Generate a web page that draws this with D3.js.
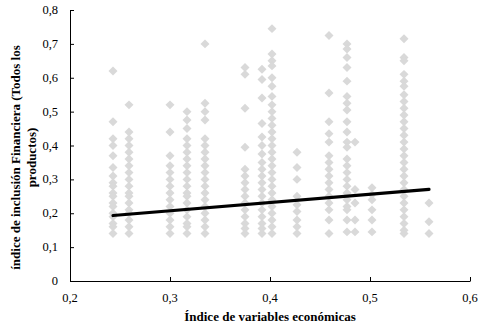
<!DOCTYPE html>
<html>
<head>
<meta charset="utf-8">
<script src="https://cdn.jsdelivr.net/npm/d3@7"></script>
<style>
  body { margin: 0; background: #fff; }
  text { font-family: "Liberation Serif", "Times New Roman", serif; }
</style>
</head>
<body>
<svg id="chart" width="478" height="325"></svg>
<script>
// x position of each column of points (índice de variables económicas)
const columnX = [0.243, 0.259, 0.300, 0.317, 0.335, 0.375, 0.392, 0.402,
                 0.427, 0.459, 0.477, 0.485, 0.502, 0.534, 0.559];

// y values for each column, same order as columnX
const columnY = [
  [0.62, 0.47, 0.42, 0.40, 0.37, 0.335, 0.31, 0.29, 0.28, 0.26, 0.25, 0.23, 0.22, 0.20, 0.19, 0.17, 0.16, 0.14],
  [0.52, 0.44, 0.42, 0.40, 0.38, 0.36, 0.34, 0.32, 0.30, 0.28, 0.26, 0.25, 0.23, 0.21, 0.20, 0.18, 0.16, 0.14],
  [0.52, 0.44, 0.37, 0.34, 0.32, 0.30, 0.28, 0.26, 0.24, 0.22, 0.20, 0.18, 0.16, 0.14],
  [0.50, 0.475, 0.45, 0.42, 0.40, 0.38, 0.36, 0.34, 0.32, 0.30, 0.28, 0.26, 0.25, 0.23, 0.21, 0.19, 0.17, 0.16, 0.14],
  [0.70, 0.525, 0.50, 0.475, 0.42, 0.40, 0.38, 0.36, 0.34, 0.32, 0.30, 0.28, 0.26, 0.24, 0.22, 0.20, 0.18, 0.16, 0.14],
  [0.63, 0.61, 0.51, 0.395, 0.33, 0.31, 0.29, 0.27, 0.25, 0.23, 0.21, 0.19, 0.17, 0.155, 0.14],
  [0.625, 0.595, 0.54, 0.465, 0.425, 0.40, 0.375, 0.35, 0.33, 0.31, 0.29, 0.27, 0.25, 0.23, 0.21, 0.19, 0.17, 0.155, 0.14],
  [0.745, 0.67, 0.65, 0.635, 0.60, 0.575, 0.545, 0.52, 0.50, 0.48, 0.46, 0.44, 0.42, 0.40, 0.38, 0.36, 0.34, 0.32, 0.30, 0.28, 0.26, 0.24, 0.22, 0.20, 0.18, 0.16, 0.14],
  [0.38, 0.335, 0.30, 0.25, 0.225, 0.205, 0.18, 0.16, 0.14],
  [0.725, 0.555, 0.47, 0.435, 0.41, 0.37, 0.35, 0.33, 0.31, 0.29, 0.27, 0.25, 0.23, 0.21, 0.18, 0.14],
  [0.70, 0.685, 0.66, 0.63, 0.59, 0.545, 0.525, 0.505, 0.47, 0.44, 0.41, 0.395, 0.36, 0.34, 0.32, 0.30, 0.28, 0.26, 0.24, 0.22, 0.21, 0.18, 0.145],
  [0.41, 0.27, 0.23, 0.18, 0.145],
  [0.275, 0.255, 0.24, 0.21, 0.18, 0.145],
  [0.715, 0.66, 0.65, 0.61, 0.59, 0.575, 0.55, 0.53, 0.51, 0.49, 0.47, 0.45, 0.43, 0.41, 0.39, 0.37, 0.35, 0.33, 0.31, 0.29, 0.27, 0.25, 0.23, 0.21, 0.19, 0.17, 0.15, 0.14],
  [0.23, 0.175, 0.14]
];

// linear trend line (as drawn in the reference)
const trendSlope = 0.244;
const trendIntercept = 0.134;

const xTicks = [0.2, 0.3, 0.4, 0.5, 0.6];
const yTicks = [0, 0.1, 0.2, 0.3, 0.4, 0.5, 0.6, 0.7, 0.8];

const xTitle = "Índice de variables económicas";
const yTitleLines = ["índice de inclusión Financiera (Todos los", "productos)"];

const svg = d3.select("#chart");
const margin = { top: 10, right: 8, bottom: 44, left: 70 };
const width = 470 - margin.left;
const height = 281 - margin.top;

const x = d3.scaleLinear().domain([0.2, 0.6]).range([0, width]);
const y = d3.scaleLinear().domain([0, 0.8]).range([height, 0]);
const fmt = d => String(+d.toFixed(1)).replace(".", ",");

const g = svg.append("g").attr("transform", `translate(${margin.left},${margin.top})`);

// points
const points = [];
columnX.forEach((cx, i) => columnY[i].forEach(v => points.push({ x: cx, y: v })));

const diamond = d3.symbol().type(d3.symbolSquare).size(40);
g.append("g").attr("class", "points")
  .selectAll("path")
  .data(points)
  .enter().append("path")
  .attr("d", diamond)
  .attr("transform", d => `translate(${x(d.x)},${y(d.y)}) rotate(45)`)
  .attr("fill", "#d9d9d9");

// trend line over the range of the data
const xr = d3.extent(columnX);
g.append("line")
  .attr("x1", x(xr[0])).attr("y1", y(trendIntercept + trendSlope * xr[0]))
  .attr("x2", x(xr[1])).attr("y2", y(trendIntercept + trendSlope * xr[1]))
  .attr("stroke", "#000")
  .attr("stroke-width", 3.2)
  .attr("stroke-linecap", "round");

// axes, ticks pointing inside
const xAxis = d3.axisTop(x).tickValues(xTicks).tickSize(4).tickFormat("");
const yAxis = d3.axisRight(y).tickValues(yTicks).tickSize(4).tickFormat("");

g.append("g").attr("class", "x-axis")
  .attr("transform", `translate(0,${height})`)
  .call(xAxis)
  .call(s => s.select(".domain").attr("d", `M0.5,0.5H${width + 0.5}`));

g.append("g").attr("class", "y-axis")
  .call(yAxis)
  .call(s => s.select(".domain").attr("d", `M0.5,0.5V${height + 0.5}`));

svg.selectAll(".domain").attr("stroke", "#000").attr("stroke-width", 1);
svg.selectAll(".tick line").attr("stroke", "#000");

// tick labels
g.append("g").selectAll("text")
  .data(xTicks)
  .enter().append("text")
  .attr("x", d => x(d))
  .attr("y", height + 21)
  .attr("text-anchor", "middle")
  .attr("font-size", 12.5)
  .attr("fill", "#000")
  .text(fmt);

g.append("g").selectAll("text")
  .data(yTicks)
  .enter().append("text")
  .attr("x", -12)
  .attr("y", d => y(d) + 4)
  .attr("text-anchor", "end")
  .attr("font-size", 12.5)
  .attr("fill", "#000")
  .text(fmt);

// axis titles
svg.append("text")
  .attr("x", margin.left + width / 2)
  .attr("y", 321)
  .attr("text-anchor", "middle")
  .attr("font-size", 13)
  .attr("font-weight", "bold")
  .text(xTitle);

const yt = svg.append("text")
  .attr("transform", `translate(20,${margin.top + height / 2 + 12}) rotate(-90)`)
  .attr("text-anchor", "middle")
  .attr("font-size", 13)
  .attr("font-weight", "bold");
yTitleLines.forEach((t, i) => {
  yt.append("tspan").attr("x", 0).attr("dy", i === 0 ? 0 : 16).text(t);
});
</script>
</body>
</html>
